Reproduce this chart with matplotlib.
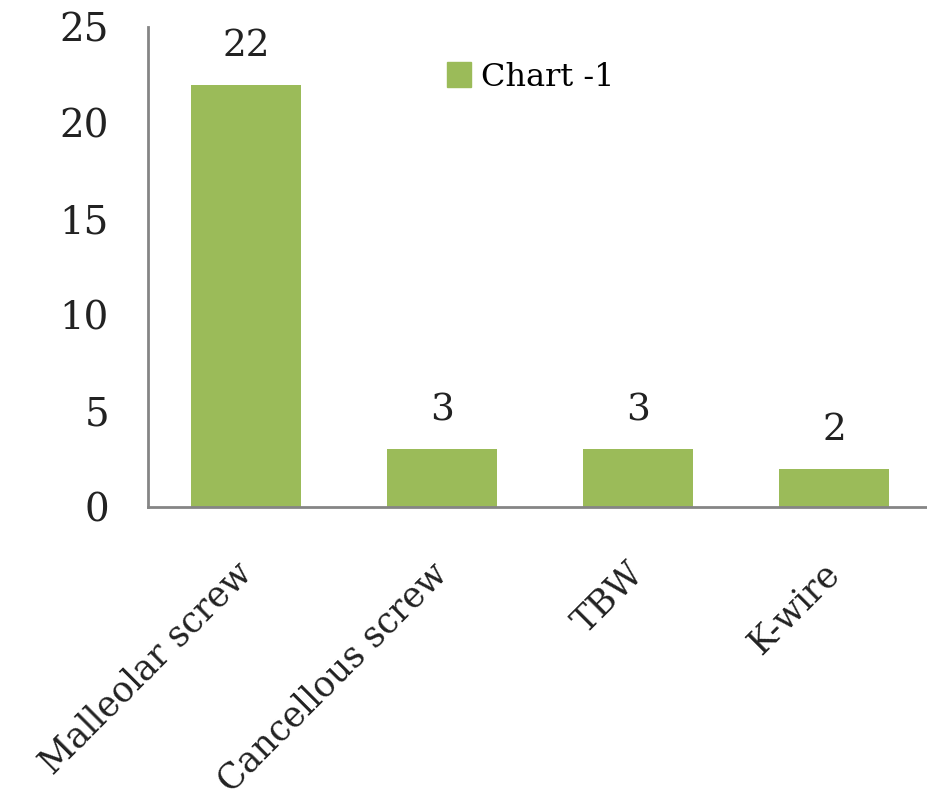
import matplotlib
matplotlib.use("Agg")
import matplotlib.pyplot as plt
from matplotlib.patches import Patch

categories = ["Malleolar screw", "Cancellous screw", "TBW", "K-wire"]
values = [22, 3, 3, 2]
series_name = "Chart -1"
yticks = [0, 5, 10, 15, 20, 25]

FONT = "DejaVu Serif"
GREEN = "#9BBB59"

fig = plt.figure(figsize=(9.27, 8.07), dpi=100)
W, H = 927, 807
left, right = 148, 932
bottom, top = 507, 27
ax = fig.add_axes([left / W, (H - bottom) / H, (right - left) / W, (bottom - top) / H])

x = list(range(len(categories)))
bars = ax.bar(x, values, width=0.56, color=GREEN, label=series_name)
ax.bar_label(bars, labels=[str(v) for v in values], padding=15,
             fontsize=27, family=FONT, color="#222222")

ax.set_xlim(-0.5, len(categories) - 0.5)
ax.set_ylim(0, 25)
ax.set_yticks(yticks)
ax.set_yticklabels([str(t) for t in yticks], fontsize=28, family=FONT, color="#222222")
ax.tick_params(axis="y", length=0, pad=28)
ax.tick_params(axis="x", length=0, pad=44)
ax.set_xticks(x)
ax.set_xticklabels(categories, rotation=45, ha="right", va="center",
                   rotation_mode="anchor", fontsize=25, family=FONT, color="#222222")

for s in ["top", "right"]:
    ax.spines[s].set_visible(False)
for s in ["left", "bottom"]:
    ax.spines[s].set_color("#858585")
    ax.spines[s].set_linewidth(2)
ax.spines["left"].set_bounds(0, 25)

leg = ax.legend(handles=[Patch(color=GREEN, label=series_name)],
                loc="center left", bbox_to_anchor=((447 - left) / (right - left), (507 - 77) / 480),
                frameon=False, prop={"family": FONT, "size": 23},
                handlelength=0.75, handleheight=0.8, handletextpad=0.3,
                borderpad=0, borderaxespad=0)

fig.savefig("out.png", dpi=100)
